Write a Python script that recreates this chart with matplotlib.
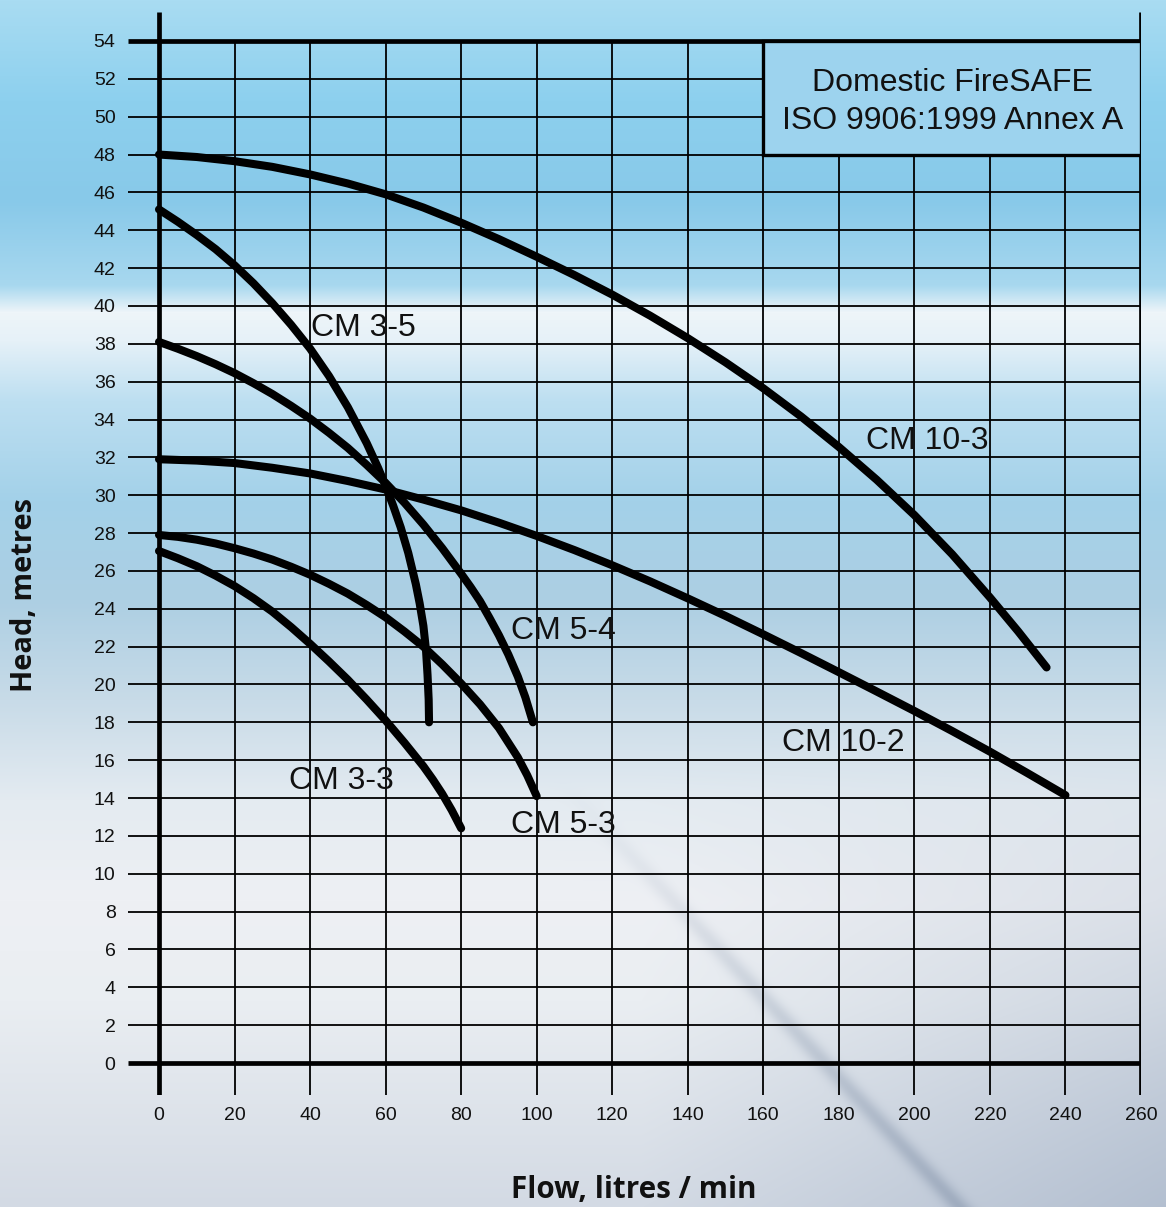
import numpy as np
import matplotlib
matplotlib.use("Agg")
import matplotlib.pyplot as plt
from matplotlib.patches import Rectangle

# ---------------- data ----------------
x_ticks = list(range(0, 261, 20))
y_ticks = list(range(0, 55, 2))

cm10_3_x = [0, 10, 20, 30, 40, 50, 60, 70, 80, 90, 100, 110, 120, 130, 140, 150, 160, 170, 180, 190, 200, 210, 220, 227.5, 235]
cm10_3_y = [48.0, 47.87, 47.65, 47.35, 46.95, 46.47, 45.9, 45.2, 44.4, 43.53, 42.6, 41.63, 40.6, 39.49, 38.3, 37.02, 35.65, 34.16, 32.55, 30.82, 28.95, 26.88, 24.6, 22.8, 20.9]

cm10_2_x = [0, 10, 20, 30, 40, 50, 60, 70, 80, 90, 100, 110, 120, 130, 140, 150, 160, 170, 180, 190, 200, 210, 220, 230, 240]
cm10_2_y = [31.9, 31.83, 31.7, 31.45, 31.15, 30.75, 30.3, 29.77, 29.2, 28.55, 27.85, 27.1, 26.3, 25.45, 24.55, 23.62, 22.65, 21.66, 20.65, 19.63, 18.6, 17.54, 16.45, 15.31, 14.15]

cm5_4_x = [0, 5, 10, 15, 20, 25, 30, 35, 40, 45, 50, 55, 60, 65, 70, 75, 80, 82.5, 85, 87.5, 90, 92.5, 95, 97, 99]
cm5_4_y = [38.1, 37.74, 37.35, 36.92, 36.45, 35.92, 35.35, 34.72, 34.05, 33.3, 32.5, 31.6, 30.65, 29.6, 28.45, 27.2, 25.85, 25.15, 24.4, 23.52, 22.6, 21.58, 20.42, 19.32, 18.0]

cm3_5_x = [0, 5, 10, 15, 20, 25, 30, 35, 40, 45, 50, 55, 58, 60, 62, 64, 66, 68, 69, 70, 70.7, 71.1, 71.4, 71.5]
cm3_5_y = [45.1, 44.45, 43.75, 43.0, 42.15, 41.2, 40.15, 39.0, 37.75, 36.3, 34.65, 32.75, 31.45, 30.5, 29.45, 28.3, 26.95, 25.3, 24.3, 23.1, 21.8, 20.5, 19.2, 18.0]

cm5_3_x = [0, 5, 10, 15, 20, 25, 30, 35, 40, 45, 50, 55, 60, 65, 70, 75, 80, 85, 90, 95, 97.5, 100]
cm5_3_y = [27.9, 27.8, 27.65, 27.45, 27.2, 26.92, 26.6, 26.22, 25.8, 25.32, 24.8, 24.2, 23.55, 22.8, 22.0, 21.06, 20.05, 18.95, 17.7, 16.15, 15.2, 14.1]

cm3_3_x = [0, 5, 10, 15, 20, 25, 30, 35, 40, 45, 50, 55, 60, 65, 70, 72.5, 75, 77.5, 80]
cm3_3_y = [27.05, 26.67, 26.25, 25.75, 25.2, 24.56, 23.85, 23.03, 22.15, 21.22, 20.25, 19.2, 18.1, 16.92, 15.68, 14.98, 14.22, 13.36, 12.4]

curve_names = ["CM 10-3", "CM 10-2", "CM 5-4", "CM 3-5", "CM 5-3", "CM 3-3"]
label_x = [203.3, 181.1, 107.1, 54.1, 107.1, 48.3]
label_y = [32.84, 16.9, 22.84, 38.84, 12.57, 14.89]

box_lines = ["Domestic FireSAFE", "ISO 9906:1999 Annex A"]
x_label = "Flow, litres / min"
y_label = "Head, metres"

# ---------------- figure ----------------
W, H = 1166, 1207
fig = plt.figure(figsize=(W / 100, H / 100), dpi=100)

# background (sky-like gradient)
ys = np.arange(H)
anch_y = [0, 100, 200, 285, 312, 340, 400, 500, 600, 700, 800, 900, 1000, 1207]
anch_c = ["#a9dcf2", "#8dd0ee", "#88c9e9", "#a8d8ef", "#eef5f9", "#e6f1f8", "#bddff1",
          "#a3d1e9", "#adcfe3", "#c8dbe8", "#e4ebf1", "#eef0f4", "#eaeef2", "#d3dae4"]
rgb = np.array([matplotlib.colors.to_rgb(c) for c in anch_c])
col = np.stack([np.interp(ys, anch_y, rgb[:, k]) for k in range(3)], axis=1)
img = np.repeat(col[:, None, :], W, axis=1)
xx, yy = np.meshgrid(np.arange(W) / W, np.arange(H) / H)
# greyer lower-right
t = np.clip((xx - 0.55) / 0.45, 0, 1) * np.clip((yy - 0.6) / 0.4, 0, 1)
grey = np.array(matplotlib.colors.to_rgb("#a6b4c8"))
img = img * (1 - 0.7 * t[..., None]) + grey * (0.7 * t[..., None])
# diagonal streak
px, py = np.meshgrid(np.arange(W), np.arange(H))
d = ((py - 790) - 1.07 * (px - 570)) / np.sqrt(1 + 1.07 ** 2)
s = np.exp(-(d / 9.0) ** 2) * np.clip((py - 780) / 420, 0, 1) * 0.45
streak = np.array(matplotlib.colors.to_rgb("#7a8aa2"))
img = img * (1 - s[..., None]) + streak * s[..., None]
img = np.clip(img, 0, 1)

bg = fig.add_axes([0, 0, 1, 1], zorder=0)
bg.imshow(img, aspect="auto", extent=[0, 1, 0, 1], interpolation="bilinear")
bg.axis("off")

# main axes, positioned so the data frame matches the reference
left_px, right_px, top_px, bot_px = 128, 1141, 12, 1095
ax = fig.add_axes([left_px / W, 1 - bot_px / H, (right_px - left_px) / W, (bot_px - top_px) / H], zorder=1)
ax.patch.set_alpha(0)
xmin = -(159 - 128) / 3.777
ymin = -(1095 - 1063) / 18.93
ymax = 54 + (41 - 12) / 18.93
ax.set_xlim(xmin, 260)
ax.set_ylim(ymin, ymax)
for sp in ax.spines.values():
    sp.set_visible(False)

# grid
thin = 1.3
thick = 3.4
ax.hlines([v for v in y_ticks if v not in (0, 54)], xmin, 260, color="black", lw=thin, zorder=1)
ax.vlines([v for v in x_ticks if v not in (0, 260)], ymin, 54, color="black", lw=thin, zorder=1)
ax.hlines([0, 54], xmin, 260, color="black", lw=thick, zorder=2)
ax.vlines([0, 260], ymin, ymax, color="black", lw=thick, zorder=2)

# box
ax.add_patch(Rectangle((160, 48), 100, 6, facecolor="#9dd3ee", edgecolor="black", lw=2.4, zorder=3))
ax.text(210, 51.8, box_lines[0], ha="center", va="center", fontsize=23, family="Liberation Sans", color="#111111", zorder=4)
ax.text(210, 49.78, box_lines[1], ha="center", va="center", fontsize=23, family="Liberation Sans", color="#111111", zorder=4)

# curves
series = [(cm10_3_x, cm10_3_y), (cm10_2_x, cm10_2_y), (cm5_4_x, cm5_4_y),
          (cm3_5_x, cm3_5_y), (cm5_3_x, cm5_3_y), (cm3_3_x, cm3_3_y)]
for (sx, sy) in series:
    ax.plot(sx, sy, color="black", lw=5.8, solid_capstyle="round", solid_joinstyle="round", zorder=5)

for name, lx, ly in zip(curve_names, label_x, label_y):
    ax.text(lx, ly, name, ha="center", va="center", fontsize=23, family="Liberation Sans", color="#111111", zorder=6)

# ticks
ax.set_xticks(x_ticks)
ax.set_xticklabels([str(v) for v in x_ticks])
ax.set_yticks(y_ticks)
ax.set_yticklabels([str(v) for v in y_ticks])
ax.tick_params(axis="both", length=0, labelsize=14, colors="#111111")
ax.tick_params(axis="y", pad=9)
ax.tick_params(axis="x", pad=9)
for lab in ax.get_xticklabels() + ax.get_yticklabels():
    lab.set_family("Liberation Sans")

fig.text(634 / W, 1 - 1190 / H, x_label, ha="center", va="center", fontsize=21.3,
         family="Open Sans", weight="bold", color="#111111")
fig.text(25 / W, 1 - 595 / H, y_label, ha="center", va="center", rotation=90, fontsize=21,
         family="Open Sans", weight="bold", color="#111111")

fig.savefig("out.png", dpi=100)
